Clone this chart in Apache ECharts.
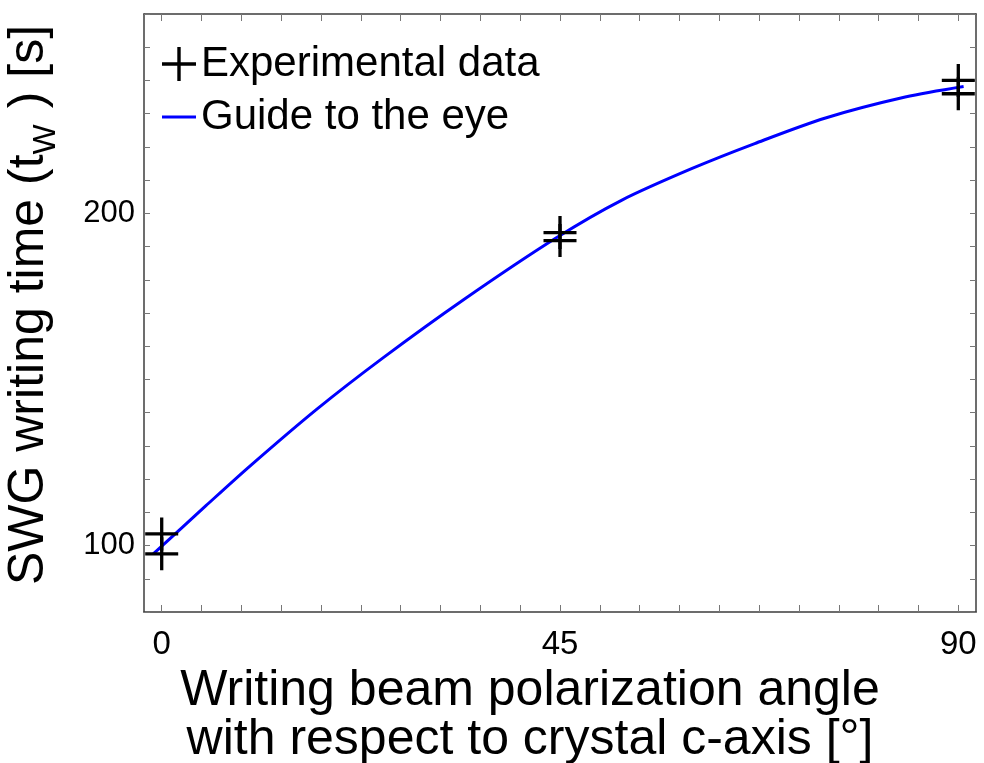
<!DOCTYPE html>
<html>
<head>
<meta charset="utf-8">
<script src="https://cdn.jsdelivr.net/npm/echarts@6/dist/echarts.min.js"></script>
<style>
  html, body { margin: 0; padding: 0; background: #fff; }
  #main { width: 984px; height: 763px; }
</style>
</head>
<body>
<div id="main"></div>
<script>
// measured points (angle in degrees, writing time in s)
var expAngle = [0, 0, 45, 45, 90, 90];
var expTime = [103.5, 97.5, 194.2, 191.8, 240.0, 236.0];

// guide to the eye
var curveAngle = [-0.95, 5, 10, 17.5, 25, 34.1, 44.5, 52, 60, 67, 75, 84, 90.6];
var curveTime = [97.5, 112.0, 124.0, 141.0, 156.5, 174.0, 192.5, 204.0, 213.6, 221.0, 228.7, 235.0, 238.2];

var xLabels = [0, 45, 90];
var xTicks = [0, 4.5, 9, 13.5, 18, 22.5, 27, 31.5, 36, 40.5, 45, 49.5, 54, 58.5, 63, 67.5, 72, 76.5, 81, 85.5, 90];
var yLabels = [100, 200];

var crossPath = 'path://M-0.1,-1L0.1,-1L0.1,1L-0.1,1Z M-1,-0.1L1,-0.1L1,0.1L-1,0.1Z';
var linePath = 'path://M0,0L34,0L34,3L0,3Z';
var fontName = '"Liberation Sans", Arial, sans-serif';

var chart = echarts.init(document.getElementById('main'));

var expData = expAngle.map(function (a, i) { return [a, expTime[i]]; });
var curveData = curveAngle.map(function (a, i) { return [a, curveTime[i]]; });

var axisLine = { show: true, onZero: false, lineStyle: { color: '#3c3c3c', width: 1.5 } };
var tickStyle = { color: '#777', width: 1 };

chart.setOption({
  animation: false,
  grid: { left: 144, right: 8, top: 14, bottom: 151, containLabel: false, outerBoundsMode: 'none' },
  legend: {
    left: 157,
    top: 38,
    orient: 'vertical',
    itemWidth: 34,
    itemHeight: 34,
    itemGap: 11,
    symbolKeepAspect: true,
    textStyle: { fontFamily: fontName, fontSize: 42, color: '#000' },
    data: [
      { name: 'Experimental data', icon: crossPath, itemStyle: { color: '#000', opacity: 1 } },
      { name: 'Guide to the eye', icon: linePath, itemStyle: { color: '#0000ff' } }
    ]
  },
  xAxis: [{
    type: 'value',
    min: -2,
    max: 92,
    position: 'bottom',
    axisLine: axisLine,
    splitLine: { show: false },
    axisTick: { inside: true, length: 7, lineStyle: tickStyle, customValues: xTicks },
    axisLabel: { customValues: xLabels, fontFamily: fontName, fontSize: 33, color: '#000', margin: 16 },
    name: 'Writing beam polarization angle\nwith respect to crystal c-axis [°]',
    nameLocation: 'middle',
    nameGap: 41,
    nameTextStyle: { fontFamily: fontName, fontSize: 50, color: '#000', lineHeight: 49, padding: [0, 60, 0, 0] }
  }, {
    type: 'value',
    min: -2,
    max: 92,
    position: 'top',
    axisLine: axisLine,
    splitLine: { show: false },
    axisTick: { inside: true, length: 7, lineStyle: tickStyle, customValues: xTicks },
    axisLabel: { show: false }
  }],
  yAxis: [{
    type: 'value',
    min: 80,
    max: 260,
    interval: 10,
    position: 'left',
    axisLine: axisLine,
    splitLine: { show: false },
    axisTick: { inside: true, length: 6, lineStyle: tickStyle },
    axisLabel: {
      fontFamily: fontName, fontSize: 31, color: '#000', margin: 9,
      formatter: function (v) { return yLabels.indexOf(v) >= 0 ? String(v) : ''; }
    },
    name: 'SWG writing time (t{sub|W}) [s]',
    nameLocation: 'middle',
    nameGap: 82,
    nameRotate: 90,
    nameTextStyle: {
      fontFamily: fontName, fontSize: 50, color: '#000', padding: [0, 0, 0, 16],
      rich: { sub: { fontFamily: fontName, fontSize: 32, color: '#000', padding: [34, 16, 0, 0] } }
    }
  }, {
    type: 'value',
    min: 80,
    max: 260,
    interval: 10,
    position: 'right',
    axisLine: axisLine,
    splitLine: { show: false },
    axisTick: { inside: true, length: 6, lineStyle: tickStyle },
    axisLabel: { show: false }
  }],
  series: [{
    name: 'Experimental data',
    type: 'scatter',
    data: expData,
    symbol: crossPath,
    symbolSize: 33,
    itemStyle: { color: '#000', opacity: 1 },
    z: 3
  }, {
    name: 'Guide to the eye',
    type: 'line',
    data: curveData,
    smooth: 0.3,
    showSymbol: false,
    symbol: 'none',
    lineStyle: { color: '#0000ff', width: 3 },
    itemStyle: { color: '#0000ff' },
    z: 2
  }]
});
</script>
</body>
</html>
